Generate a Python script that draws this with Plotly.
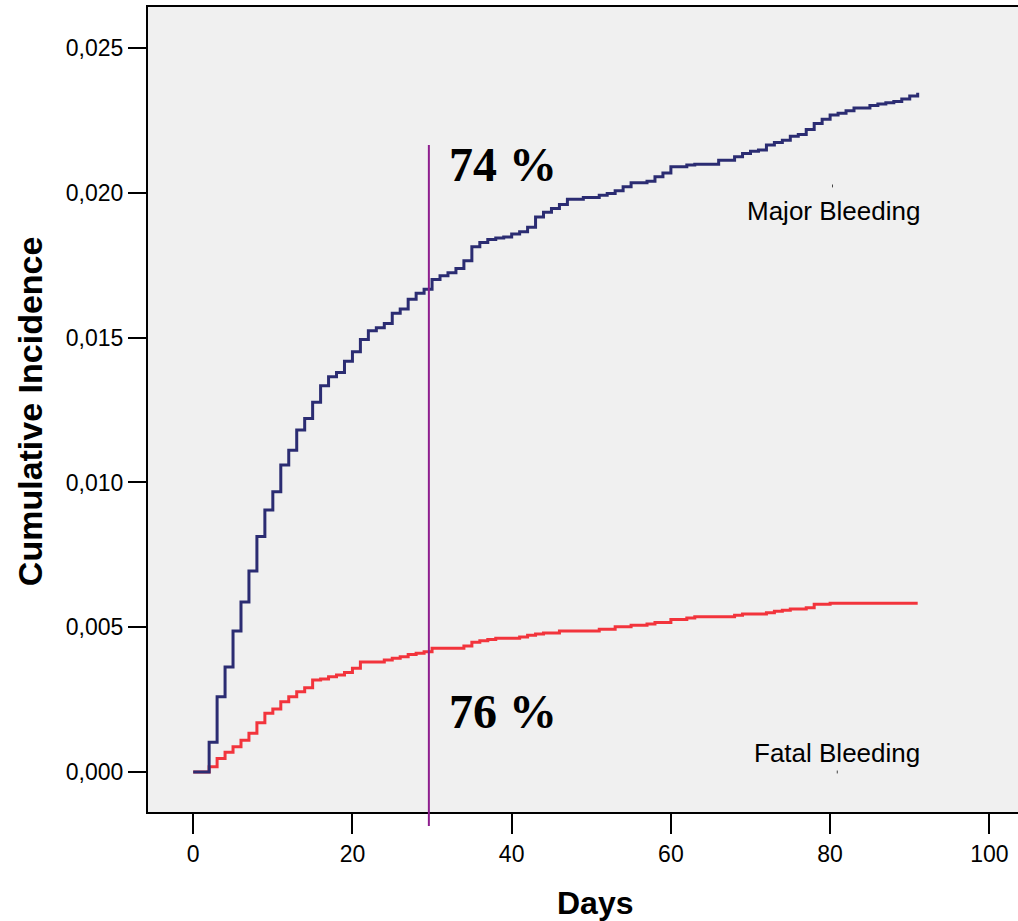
import plotly.graph_objects as go

# ---- data ----
major_days = [0, 2, 3, 4, 5, 6, 7, 8, 9, 10, 11, 12, 13, 14, 15, 16, 17, 18, 19, 20,
              21, 22, 23, 24, 25, 26, 27, 28, 29, 30, 31, 32, 33, 34, 35, 36, 37, 38, 39, 40,
              41, 42, 43, 44, 45, 46, 47, 49, 51, 52, 53, 54, 55, 57, 58, 59, 60, 62, 63,
              66, 68, 69, 70, 71, 72, 73, 74, 75, 76, 77, 78, 79, 80, 81, 82, 83, 85, 86,
              87, 88, 89, 90, 91]
major_vals = [0.00000, 0.00103, 0.00260, 0.00363, 0.00487, 0.00587, 0.00694, 0.00813, 0.00905,
              0.00968, 0.01060, 0.01111, 0.01181, 0.01221, 0.01277, 0.01334, 0.01365, 0.01380,
              0.01419, 0.01451, 0.01494, 0.01524, 0.01534, 0.01549, 0.01584, 0.01599, 0.01633,
              0.01653, 0.01667, 0.01701, 0.01714, 0.01724, 0.01739, 0.01766, 0.01814, 0.01829,
              0.01839, 0.01844, 0.01848, 0.01858, 0.01866, 0.01881, 0.01917, 0.01933, 0.01946,
              0.01960, 0.01978, 0.01984, 0.01992, 0.01998, 0.02007, 0.02021, 0.02035, 0.02040,
              0.02056, 0.02069, 0.02090, 0.02096, 0.02099, 0.02113, 0.02125, 0.02136, 0.02144,
              0.02148, 0.02165, 0.02174, 0.02182, 0.02196, 0.02202, 0.02219, 0.02240, 0.02254,
              0.02269, 0.02275, 0.02284, 0.02293, 0.02302, 0.02307, 0.02311, 0.02316, 0.02324,
              0.02335, 0.02346]

fatal_days = [0, 2, 3, 4, 5, 6, 7, 8, 9, 10, 11, 12, 13, 14, 15, 16, 17, 18, 19, 20,
              21, 24, 25, 26, 27, 28, 29, 30, 34, 35, 36, 37, 38, 41, 42, 43, 44, 46, 51,
              53, 55, 57, 58, 60, 62, 63, 68, 69, 72, 73, 74, 75, 77, 78, 80, 91]
fatal_vals = [0.00000, 0.00018, 0.00047, 0.00068, 0.00087, 0.00110, 0.00134, 0.00170, 0.00203,
              0.00218, 0.00243, 0.00260, 0.00277, 0.00291, 0.00318, 0.00321, 0.00329, 0.00335,
              0.00344, 0.00358, 0.00380, 0.00387, 0.00393, 0.00398, 0.00406, 0.00410, 0.00415,
              0.00427, 0.00435, 0.00448, 0.00453, 0.00458, 0.00462, 0.00466, 0.00472, 0.00477,
              0.00480, 0.00487, 0.00493, 0.00502, 0.00507, 0.00511, 0.00516, 0.00527, 0.00532,
              0.00536, 0.00541, 0.00546, 0.00550, 0.00555, 0.00559, 0.00563, 0.00567, 0.00579,
              0.00583, 0.00583]

x_tick_vals = [0, 20, 40, 60, 80, 100]
x_tick_text = ["0", "20", "40", "60", "80", "100"]
y_tick_vals = [0.000, 0.005, 0.010, 0.015, 0.020, 0.025]
y_tick_text = ["0,000", "0,005", "0,010", "0,015", "0,020", "0,025"]

marker_day = 29.6
major_label = "Major Bleeding"
fatal_label = "Fatal Bleeding"
major_pct = "74 %"
fatal_pct = "76 %"
x_title = "Days"
y_title = "Cumulative Incidence"

NAVY = "#2b2c72"
RED = "#f2343c"
PURPLE = "#8e1e8e"

fig = go.Figure()
fig.add_trace(go.Scatter(x=fatal_days, y=fatal_vals, mode="lines", line_shape="hv",
                         line=dict(color=RED, width=3), showlegend=False, hoverinfo="skip"))
fig.add_trace(go.Scatter(x=major_days, y=major_vals, mode="lines", line_shape="hv",
                         line=dict(color=NAVY, width=3), showlegend=False, hoverinfo="skip"))

# vertical marker line (extends slightly below axis like the reference)
fig.add_shape(type="line", xref="x", yref="paper", x0=marker_day, x1=marker_day,
              y0=-0.0174, y1=0.8286, line=dict(color=PURPLE, width=2), layer="above")

# tiny label leader marks
fig.add_shape(type="line", xref="x", yref="y", x0=80.3, x1=80.3, y0=0.02019, y1=0.02029,
              line=dict(color="#444", width=1))
fig.add_shape(type="line", xref="x", yref="y", x0=80.9, x1=80.9, y0=-0.00005, y1=0.00005,
              line=dict(color="#444", width=1))

serif = "Liberation Serif, Times New Roman, serif"
sans = "Liberation Sans, Arial, sans-serif"
fig.add_annotation(x=31.9, y=0.02099, text=f"<b>{major_pct}</b>", showarrow=False,
                   xanchor="left", yanchor="middle", font=dict(family=serif, size=48, color="black"))
fig.add_annotation(x=31.9, y=0.00209, text=f"<b>{fatal_pct}</b>", showarrow=False,
                   xanchor="left", yanchor="middle", font=dict(family=serif, size=48, color="black"))
fig.add_annotation(x=91.5, y=0.01939, text=major_label, showarrow=False,
                   xanchor="right", yanchor="middle", font=dict(family=sans, size=26, color="black"))
fig.add_annotation(x=91.5, y=0.00065, text=fatal_label, showarrow=False,
                   xanchor="right", yanchor="middle", font=dict(family=sans, size=26, color="black"))

# axis titles
fig.add_annotation(xref="paper", yref="paper", x=0.514, y=-0.113, text=f"<b>{x_title}</b>",
                   showarrow=False, xanchor="center", yanchor="middle",
                   font=dict(family=sans, size=32, color="black"))
fig.add_annotation(xref="paper", yref="paper", x=-0.1356, y=0.498, text=f"<b>{y_title}</b>",
                   showarrow=False, xanchor="center", yanchor="middle", textangle=-90,
                   font=dict(family=sans, size=34, color="black"))

fig.update_layout(
    width=1018, height=921,
    margin=dict(l=148, r=0, t=7, b=109),
    paper_bgcolor="white", plot_bgcolor="#f0f0f0",
    font=dict(family=sans, color="black"),
    showlegend=False,
)
fig.update_xaxes(range=[-5.68, 103.6], tickvals=x_tick_vals, ticktext=x_tick_text,
                 showgrid=False, zeroline=False, showline=True, linecolor="black", linewidth=2,
                 mirror=True, ticks="outside", ticklen=20, tickwidth=2, tickcolor="black",
                 tickfont=dict(size=23, family=sans))
fig.update_yaxes(range=[-0.001381, 0.02642], tickvals=y_tick_vals, ticktext=y_tick_text,
                 showgrid=False, zeroline=False, showline=True, linecolor="black", linewidth=2,
                 mirror=False, ticks="outside", ticklen=18, tickwidth=2, tickcolor="black",
                 tickfont=dict(size=23, family=sans))

fig.write_html("out.html")
